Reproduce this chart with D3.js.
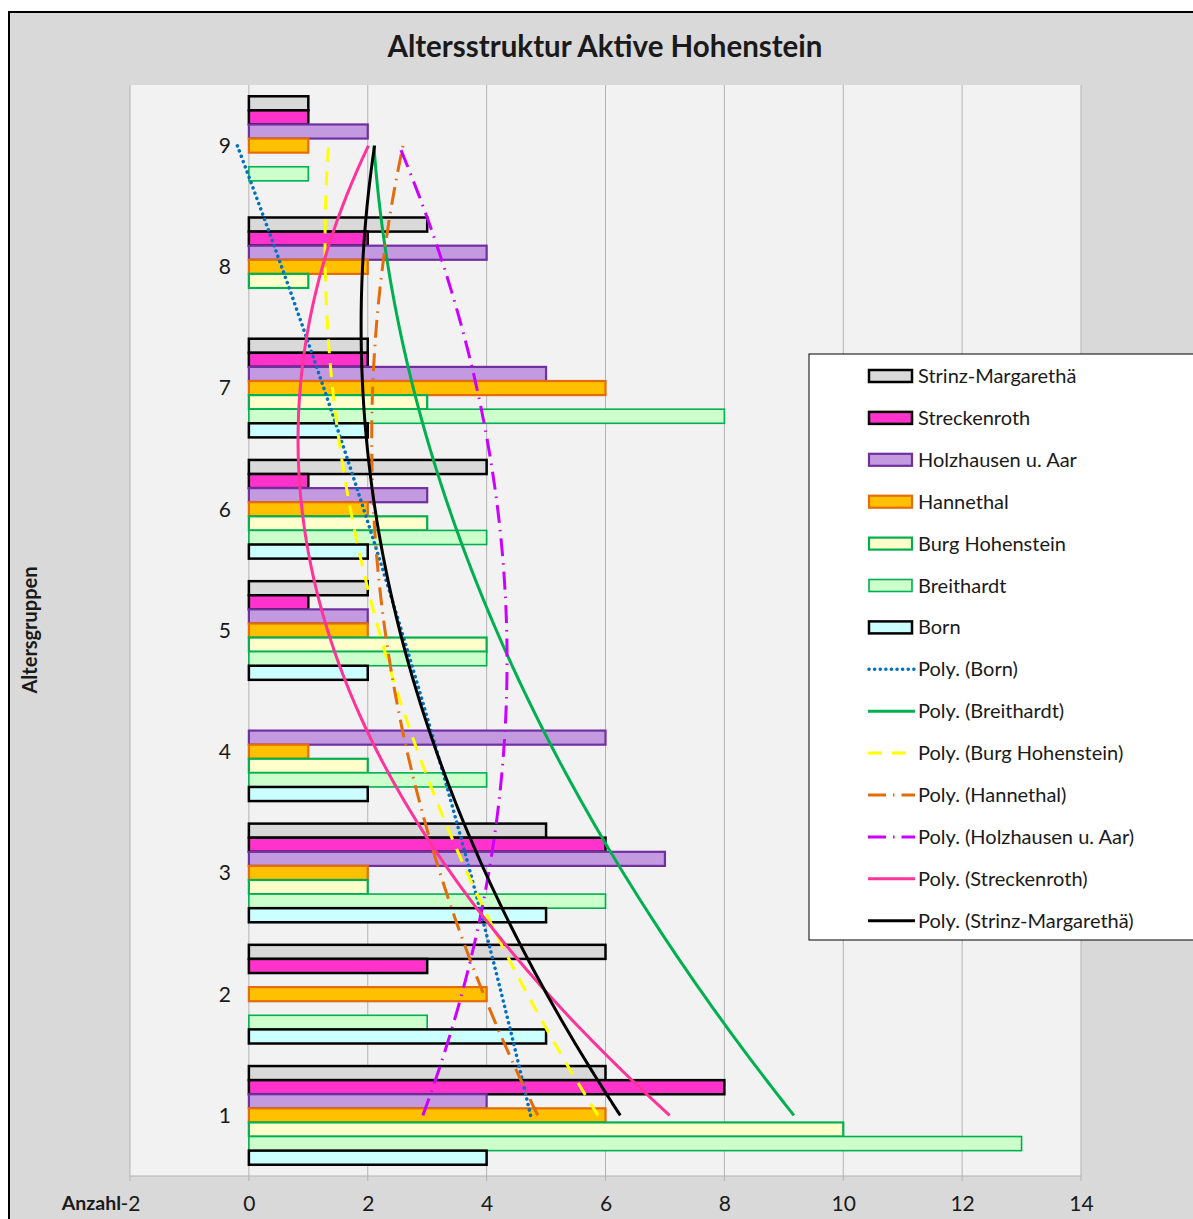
<!DOCTYPE html>
<html>
<head>
<meta charset="utf-8">
<script src="https://cdn.jsdelivr.net/npm/d3@7"></script>
<style>
  body { margin: 0; background: #fff; }
  text { font-family: Lato, "Open Sans", sans-serif; fill: #1a1a1a; }
</style>
</head>
<body>
<div id="chart-area"></div>
<script>
// Daten: Altersgruppen 1..9, Werte je Ortsteil
const gruppen = [1, 2, 3, 4, 5, 6, 7, 8, 9];
const serien = ["Strinz-Margarethä", "Streckenroth", "Holzhausen u. Aar", "Hannethal", "Burg Hohenstein", "Breithardt", "Born"];

const strinz      = [6, 6, 5, 0, 2, 4, 2, 3, 1];
const streckenroth = [8, 3, 6, 0, 1, 1, 2, 2, 1];
const holzhausen  = [4, 0, 7, 6, 2, 3, 5, 4, 2];
const hannethal   = [6, 4, 2, 1, 2, 2, 6, 2, 1];
const burg        = [10, 0, 2, 2, 4, 3, 3, 1, 0];
const breithardt  = [13, 3, 6, 4, 4, 4, 8, 0, 1];
const born        = [4, 5, 5, 2, 2, 2, 2, 0, 0];

const xTicks = [-2, 0, 2, 4, 6, 8, 10, 12, 14];

const werte = {
  "Strinz-Margarethä": strinz,
  "Streckenroth": streckenroth,
  "Holzhausen u. Aar": holzhausen,
  "Hannethal": hannethal,
  "Burg Hohenstein": burg,
  "Breithardt": breithardt,
  "Born": born
};

// Stile
const barStyle = {
  "Strinz-Margarethä": { fill: "#d9d9d9", stroke: "#000000", sw: 2.5 },
  "Streckenroth":      { fill: "#ff33cc", stroke: "#000000", sw: 2.5 },
  "Holzhausen u. Aar": { fill: "#c39ae0", stroke: "#7030a0", sw: 2.2 },
  "Hannethal":         { fill: "#ffc000", stroke: "#e46c0a", sw: 2.2 },
  "Burg Hohenstein":   { fill: "#ffffcc", stroke: "#00b050", sw: 2.2 },
  "Breithardt":        { fill: "#ccffcc", stroke: "#00b050", sw: 1.6 },
  "Born":              { fill: "#ccffff", stroke: "#000000", sw: 2.5 }
};

const trendOrder = ["Born", "Breithardt", "Burg Hohenstein", "Hannethal", "Holzhausen u. Aar", "Streckenroth", "Strinz-Margarethä"];
const trendStyle = {
  "Born":              { color: "#0070c0", dash: "0.1 5.5", cap: "round", w: 3.5 },
  "Breithardt":        { color: "#00b050", dash: null, cap: "butt", w: 3 },
  "Burg Hohenstein":   { color: "#ffff00", dash: "14 10", cap: "butt", w: 3 },
  "Hannethal":         { color: "#e46c0a", dash: "18 7 1.5 7", cap: "butt", w: 3 },
  "Holzhausen u. Aar": { color: "#cc00ff", dash: "18 7 1.5 7", cap: "butt", w: 3 },
  "Streckenroth":      { color: "#ff3399", dash: null, cap: "butt", w: 3 },
  "Strinz-Margarethä": { color: "#000000", dash: null, cap: "butt", w: 3 }
};

const W = 1193, H = 1219;
const plot = { left: 130, right: 1081, top: 85, bottom: 1176 };

const svg = d3.select("#chart-area")
  .append("svg")
  .attr("width", W)
  .attr("height", H);

// Diagrammfläche
svg.append("rect")
  .attr("x", 9).attr("y", 12)
  .attr("width", W + 20).attr("height", H + 20)
  .attr("fill", "#d9d9d9")
  .attr("stroke", "#000").attr("stroke-width", 2);

// Zeichnungsfläche
svg.append("rect")
  .attr("x", plot.left).attr("y", plot.top)
  .attr("width", plot.right - plot.left).attr("height", plot.bottom - plot.top)
  .attr("fill", "#f2f2f2");

// Skalen
const x = d3.scaleLinear().domain([-2, 14]).range([plot.left, plot.right]);
const y = d3.scaleBand().domain(gruppen.slice().reverse()).range([plot.top, plot.bottom]).padding(0);
const ySub = d3.scaleBand().domain(serien).range([0, y.bandwidth()]).paddingInner(0).paddingOuter(0.8);
const yLin = d3.scaleLinear().domain([0.5, 9.5]).range([plot.bottom, plot.top]);

// Gitternetz
svg.append("g")
  .selectAll("line")
  .data(xTicks)
  .join("line")
  .attr("x1", d => x(d)).attr("x2", d => x(d))
  .attr("y1", plot.top).attr("y2", plot.bottom + 5)
  .attr("stroke", "#b3b3b3").attr("stroke-width", 1);

svg.append("line")
  .attr("x1", plot.left).attr("x2", plot.right)
  .attr("y1", plot.bottom).attr("y2", plot.bottom)
  .attr("stroke", "#b3b3b3").attr("stroke-width", 1);

// X-Achse
const xAxis = svg.append("g")
  .attr("transform", `translate(0, ${plot.bottom})`)
  .call(d3.axisBottom(x).tickValues(xTicks).tickSize(0).tickPadding(20).tickFormat(d => String(d)));
xAxis.select(".domain").remove();
xAxis.selectAll("text")
  .style("font-size", "21px")
  .style("font-family", "Lato, sans-serif")
  .attr("fill", "#1a1a1a");

// Kategorien
svg.append("g")
  .selectAll("text")
  .data(gruppen)
  .join("text")
  .attr("x", x(0) - 18)
  .attr("y", d => y(d) + y.bandwidth() / 2)
  .attr("dy", "0.35em")
  .attr("text-anchor", "end")
  .style("font-size", "21px")
  .text(d => d);

// Balken
const rows = [];
gruppen.forEach((g, i) => {
  serien.forEach(s => rows.push({ g: g, s: s, v: werte[s][i] }));
});

svg.append("g")
  .selectAll("rect")
  .data(rows.filter(d => d.v > 0))
  .join("rect")
  .attr("x", x(0))
  .attr("y", d => y(d.g) + ySub(d.s))
  .attr("width", d => x(d.v) - x(0))
  .attr("height", ySub.bandwidth())
  .attr("fill", d => barStyle[d.s].fill)
  .attr("stroke", d => barStyle[d.s].stroke)
  .attr("stroke-width", d => barStyle[d.s].sw);

// Polynomische Trendlinien (2. Ordnung, kleinste Quadrate)
function polyFit2(xs, ys) {
  const n = xs.length;
  let s1 = 0, s2 = 0, s3 = 0, s4 = 0, t0 = 0, t1 = 0, t2 = 0;
  xs.forEach((xv, i) => {
    const yv = ys[i];
    s1 += xv; s2 += xv * xv; s3 += xv ** 3; s4 += xv ** 4;
    t0 += yv; t1 += xv * yv; t2 += xv * xv * yv;
  });
  const A = [[n, s1, s2], [s1, s2, s3], [s2, s3, s4]];
  const B = [t0, t1, t2];
  const det = m => m[0][0] * (m[1][1] * m[2][2] - m[1][2] * m[2][1])
    - m[0][1] * (m[1][0] * m[2][2] - m[1][2] * m[2][0])
    + m[0][2] * (m[1][0] * m[2][1] - m[1][1] * m[2][0]);
  const D = det(A);
  return [0, 1, 2].map(k => {
    const M = A.map((row, r) => row.map((v, c) => (c === k ? B[r] : v)));
    return det(M) / D;
  });
}

const line = d3.line()
  .x(d => x(d.v))
  .y(d => yLin(d.g))
  .curve(d3.curveBasis);

const steps = d3.range(1, 9.001, 0.1);
svg.append("g")
  .selectAll("path")
  .data(trendOrder)
  .join("path")
  .attr("d", s => {
    const c = polyFit2(gruppen, werte[s]);
    return line(steps.map(g => ({ g: g, v: c[0] + c[1] * g + c[2] * g * g })));
  })
  .attr("fill", "none")
  .attr("stroke", s => trendStyle[s].color)
  .attr("stroke-width", s => trendStyle[s].w)
  .attr("stroke-dasharray", s => trendStyle[s].dash)
  .attr("stroke-linecap", s => trendStyle[s].cap);

// Titel
svg.append("text")
  .attr("x", 605).attr("y", 57)
  .attr("text-anchor", "middle")
  .style("font-size", "29.5px")
  .style("font-weight", "bold")
  .text("Altersstruktur Aktive Hohenstein");

// Achsentitel
svg.append("text")
  .attr("transform", "translate(37, 630) rotate(-90)")
  .attr("text-anchor", "middle")
  .style("font-size", "20px")
  .style("font-weight", "bold")
  .text("Altersgruppen");

svg.append("text")
  .attr("x", 121).attr("y", 1210)
  .attr("text-anchor", "end")
  .style("font-size", "19.5px")
  .style("font-weight", "bold")
  .text("Anzahl");

// Legende
const legend = svg.append("g").attr("transform", "translate(809, 354)");
legend.append("rect")
  .attr("width", 400).attr("height", 586)
  .attr("fill", "#fff")
  .attr("stroke", "#000").attr("stroke-width", 1);

const legendItems = serien.map(s => ({ s: s, typ: "bar", label: s }))
  .concat(trendOrder.map(s => ({ s: s, typ: "trend", label: `Poly. (${s})` })));

const li = legend.selectAll(".legendGroup")
  .data(legendItems)
  .join("g")
  .attr("class", "legendGroup")
  .attr("transform", (d, i) => `translate(0, ${22 + i * 41.9})`);

li.filter(d => d.typ === "bar").append("rect")
  .attr("x", 60).attr("y", -6)
  .attr("width", 43).attr("height", 12)
  .attr("fill", d => barStyle[d.s].fill)
  .attr("stroke", d => barStyle[d.s].stroke)
  .attr("stroke-width", d => barStyle[d.s].sw);

li.filter(d => d.typ === "trend").append("line")
  .attr("x1", d => d.s === "Born" ? 60 : 59).attr("x2", 106)
  .attr("y1", 0).attr("y2", 0)
  .attr("stroke", d => trendStyle[d.s].color)
  .attr("stroke-width", d => trendStyle[d.s].w)
  .attr("stroke-dasharray", d => trendStyle[d.s].dash)
  .attr("stroke-linecap", d => trendStyle[d.s].cap);

li.append("text")
  .attr("x", 109)
  .attr("y", 0)
  .attr("dy", "0.35em")
  .style("font-size", "20px")
  .text(d => d.label);
</script>
</body>
</html>
